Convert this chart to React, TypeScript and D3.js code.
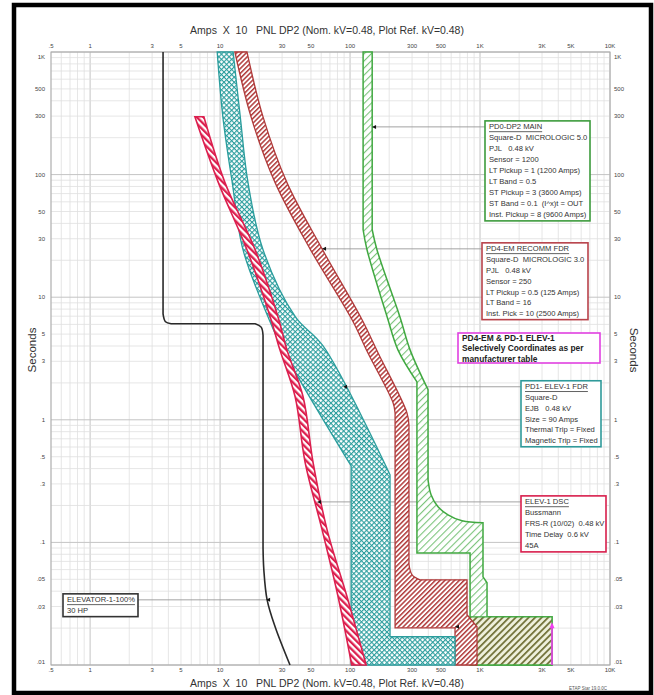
import * as d3 from 'd3';

type P = [number, number];

// axis ticks (Amps x 10 / seconds)
const xTicks = [0.5, 1, 3, 5, 10, 30, 50, 100, 300, 500, 1000, 3000, 5000, 10000];
const xTickLabels = ['.5', '1', '3', '5', '10', '30', '50', '100', '300', '500', '1K', '3K', '5K', '10K'];
const yTicks = [1000, 500, 300, 100, 50, 30, 10, 5, 3, 1, 0.5, 0.3, 0.1, 0.05, 0.03, 0.01];
const yTickLabels = ['1K', '500', '300', '100', '50', '30', '10', '5', '3', '1', '.5', '.3', '.1', '.05', '.03', '.01'];

// ELEV-1 DSC fuse (min melt / total clear)
const fuseMinMelt: P[] = [[6.4, 296], [9.7, 86], [16.1, 24.4], [24.3, 6.9], [28.9, 3.7], [37.8, 1.54], [45.1, 0.45], [60.9, 0.127], [80.9, 0.036], [103, 0.01]];
const fuseTotalClear: P[] = [[7.5, 296], [10.9, 86], [18.6, 24.4], [27.9, 6.9], [32.7, 3.7], [43.5, 1.54], [51.9, 0.45], [66.5, 0.127], [94.8, 0.036], [133, 0.01]];

// PD1- ELEV-1 FDR, EJB 90A
const pd1Min: P[] = [[9.5, 1000], [10.5, 296], [12.4, 86], [15.0, 24.4], [23.4, 6.9], [30.5, 3.7], [102, 0.42], [102, 0.01]];
const pd1Max: P[] = [[12.6, 1000], [14.3, 296], [16.4, 86], [21.4, 24.4], [38, 6.9], [62, 4.0], [203, 0.356], [203, 0.017], [642, 0.017], [642, 0.01]];

// PD4-EM RECOMM FDR, Micrologic 3.0
const pd4Min: P[] = [[13.0, 1000], [17.3, 296], [26.5, 86], [49.2, 24.8], [103.6, 6.54], [137, 3.52], [214, 1.38], [222, 1.14], [222, 0.0201], [642, 0.0201], [642, 0.01]];
const pd4Max: P[] = [[16.1, 1000], [21.4, 296], [32.7, 86], [60.9, 24.8], [123.7, 6.54], [164, 3.52], [274, 1.14], [284, 0.9], [284, 0.066], [300, 0.0544], [345, 0.0495], [794, 0.0495], [794, 0.0257], [948, 0.0205], [948, 0.01]];

// PD0-DP2 MAIN, Micrologic 5.0
const pd0Min: P[] = [[126, 1000], [126, 35.5], [135, 24.4], [193, 6.9], [234, 3.7], [327, 2.04], [327, 0.082], [838, 0.082], [838, 0.01]];
const pd0Max: P[] = [[148, 1000], [148, 35.5], [161, 24.4], [242, 6.9], [290, 3.7], [398, 1.76], [398, 0.324], [420, 0.245], [475, 0.195], [567, 0.168], [727, 0.150], [1054, 0.1445], [1054, 0.0524], [1132, 0.0468], [1132, 0.0247], [3580, 0.0247], [3580, 0.01]];
const pd0InstBand: P[] = [[838, 0.0247], [3580, 0.0247], [3580, 0.01], [838, 0.01]];

// ELEVATOR-1 motor starting
const motorCurve: P[] = [[3.64, 1000], [3.64, 7.3], [3.8, 6.3], [4.2, 6.07], [18.6, 6.07], [20.7, 5.7], [21.4, 4.9], [21.4, 0.09], [21.7, 0.06], [23, 0.034], [26.5, 0.0205], [34.5, 0.01]];

// fault current marker
const faultAmps = 3580;
const faultTop = 0.0215;

// label texts
const pd0Label = ['PD0-DP2 MAIN', 'Square-D  MICROLOGIC 5.0', 'PJL   0.48 kV', 'Sensor = 1200', 'LT Pickup = 1 (1200 Amps)', 'LT Band = 0.5', 'ST Pickup = 3 (3600 Amps)', 'ST Band = 0.1  (I^x)t = OUT', 'Inst. Pickup = 8 (9600 Amps)'];
const pd4Label = ['PD4-EM RECOMM FDR', 'Square-D  MICROLOGIC 3.0', 'PJL   0.48 kV', 'Sensor = 250', 'LT Pickup = 0.5 (125 Amps)', 'LT Band = 16', 'Inst. Pick = 10 (2500 Amps)'];
const pd1Label = ['PD1- ELEV-1 FDR', 'Square-D', 'EJB   0.48 kV', 'Size = 90 Amps', 'Thermal Trip = Fixed', 'Magnetic Trip = Fixed'];
const fuseLabel = ['ELEV-1 DSC', 'Bussmann', 'FRS-R (10/02)  0.48 kV', 'Time Delay  0.6 kV', '45A'];
const motorLabel = ['ELEVATOR-1-100%', '30 HP'];
const noteLabel = ['PD4-EM & PD-1 ELEV-1', 'Selectively Coordinates as per', 'manufacturer table'];

// leader tips (amps x10, seconds)
const pd0Tip: P = [147.6, 245];
const pd4Tip: P = [60.9, 24.8];
const pd1Tip: P = [88.3, 1.86];
const fuseTip: P = [55.7, 0.214];
const motorTip: P = [22.6, 0.034];
const pd4InstTip: P = [642, 0.0205];

const W = 654;
const H = 695;
const plot = { left: 51, right: 610, top: 52, bottom: 665 };
const FONT = 'Liberation Sans, Arial, sans-serif';

const x = d3.scaleLog().domain([0.5, 10000]).range([plot.left, plot.right]);
const y = d3.scaleLog().domain([0.01, 1000]).range([plot.bottom, plot.top]);

const smoothGen = d3.line<P>().x(d => x(d[0])).y(d => y(d[1])).curve(d3.curveCatmullRom.alpha(0.5));
const linearGen = d3.line<P>().x(d => x(d[0])).y(d => y(d[1]));

// axis-aligned pieces straight, the rest smooth
function tracePath(pts: P[], move: boolean): string {
  const aligned = (a: P, b: P) => a[0] === b[0] || a[1] === b[1];
  let d = '';
  let i = 0;
  while (i < pts.length - 1) {
    const str = aligned(pts[i], pts[i + 1]);
    let j = i + 1;
    while (j < pts.length - 1 && aligned(pts[j], pts[j + 1]) === str) j++;
    let s = (str ? linearGen : smoothGen)(pts.slice(i, j + 1)) || '';
    if (d || !move) s = s.replace(/^M/, 'L');
    d += s;
    i = j;
  }
  return d;
}

const band = (left: P[], right: P[]) => tracePath(left, true) + tracePath([...right].reverse(), false) + 'Z';

const isMajor = (v: number) => Math.abs(Math.log10(v) - Math.round(Math.log10(v))) < 1e-6;

function Box({ left, tip, lines, color, width, lh = 10.8 }: any) {
  const ty = y(tip[1]);
  const boxTop = ty - 6;
  const h = (lines.length - 1) * lh + 12;
  return (
    <g>
      <line x1={x(tip[0])} x2={left} y1={ty} y2={ty} stroke="#999" strokeWidth={0.9} />
      <rect x={left} y={boxTop} width={width} height={h} fill="#fff" stroke={color} strokeWidth={1.6} />
      {lines.map((t: string, i: number) => (
        <text key={i} x={left + 4} y={boxTop + 6 + i * lh} dominantBaseline="central" fontSize={7.6}
          fill="#333" style={{ whiteSpace: 'pre' }} textDecoration={i === 0 ? 'underline' : undefined}>{t}</text>
      ))}
    </g>
  );
}

export default function App() {
  const xGrid = x.ticks();
  const yGrid = y.ticks();
  return (
    <svg width={W} height={H} style={{ position: 'absolute', left: 0, top: 0, display: 'block', background: '#fff' }} fontFamily={FONT}>
      <defs>
        <pattern id="hFuse" width={4.6} height={4.6} patternUnits="userSpaceOnUse" patternTransform="rotate(-45)">
          <rect width={4.6} height={4.6} fill="#fff" />
          <rect width={2.3} height={4.6} fill="#dc1f4e" />
        </pattern>
        <pattern id="hPd4" width={3.4} height={3.4} patternUnits="userSpaceOnUse" patternTransform="rotate(45)">
          <rect width={3.4} height={3.4} fill="#fff" />
          <rect width={1.5} height={3.4} fill="#b03a3a" />
        </pattern>
        <pattern id="hPd1" width={3.6} height={3.6} patternUnits="userSpaceOnUse" patternTransform="rotate(45)">
          <rect width={3.6} height={3.6} fill="#fff" />
          <rect width={1.1} height={3.6} fill="#2b9d9d" />
          <rect width={3.6} height={1.1} fill="#2b9d9d" />
        </pattern>
        <pattern id="hPd0" width={5} height={5} patternUnits="userSpaceOnUse" patternTransform="rotate(45)">
          <rect width={5} height={5} fill="#fff" />
          <rect width={1.1} height={5} fill="#7cc47c" />
        </pattern>
        <pattern id="hInst" width={4.6} height={4.6} patternUnits="userSpaceOnUse" patternTransform="rotate(45)">
          <rect width={4.6} height={4.6} fill="#eef0dc" />
          <rect width={1.7} height={4.6} fill="#6e6e34" />
        </pattern>
      </defs>

      {/* grid */}
      {xGrid.map((v, i) => (
        <line key={'gx' + i} x1={x(v)} x2={x(v)} y1={plot.top} y2={plot.bottom}
          stroke={isMajor(v) ? '#c4c4c4' : '#e0e0e0'} strokeWidth={isMajor(v) ? 1 : 0.8} />
      ))}
      {yGrid.map((v, i) => (
        <line key={'gy' + i} x1={plot.left} x2={plot.right} y1={y(v)} y2={y(v)}
          stroke={isMajor(v) ? '#c4c4c4' : '#e0e0e0'} strokeWidth={isMajor(v) ? 1 : 0.8} />
      ))}
      <rect x={plot.left} y={plot.top} width={plot.right - plot.left} height={plot.bottom - plot.top}
        fill="none" stroke="#aaa" strokeWidth={1} />

      {/* leaders and label boxes */}
      <Box left={485} width={105} lh={11} tip={pd0Tip} lines={pd0Label} color="#3d9b3d" />
      <Box left={482} width={106} tip={pd4Tip} lines={pd4Label} color="#b8424a" />
      <Box left={521} width={80} tip={pd1Tip} lines={pd1Label} color="#2f9a9a" />
      <Box left={521} width={85} lh={11} tip={fuseTip} lines={fuseLabel} color="#d81e4c" />
      <Box left={63} width={75} tip={motorTip} lines={motorLabel} color="#333" />

      {/* bands */}
      <path d={band(pd0Min, pd0Max)} fill="url(#hPd0)" stroke="#40a840" strokeWidth={1.5} />
      <path d={linearGen(pd0InstBand) + 'Z'} fill="url(#hInst)" stroke="#40a840" strokeWidth={1.3} />
      <path d={band(pd4Min, pd4Max)} fill="url(#hPd4)" stroke="#b03a3a" strokeWidth={1.3} />
      <path d={band(pd1Min, pd1Max)} fill="url(#hPd1)" stroke="#2b9d9d" strokeWidth={1.3} />
      <path d={band(fuseMinMelt, fuseTotalClear)} fill="url(#hFuse)" stroke="#dc1f4e" strokeWidth={1.6} />
      <path d={tracePath(motorCurve, true)} fill="none" stroke="#2a2a2a" strokeWidth={1.6} />

      {/* tip markers on top of curves */}
      {[pd0Tip, pd4Tip, pd1Tip, fuseTip, motorTip, pd4InstTip].map((t, i) => (
        <path key={'m' + i} d={`M${x(t[0])},${y(t[1])}l4,-2l0,4Z`} fill="#111" />
      ))}

      {/* fault current marker */}
      <line x1={x(faultAmps)} x2={x(faultAmps)} y1={y(0.01)} y2={y(faultTop)} stroke="#f03cf0" strokeWidth={1.6} />
      <path d={`M${x(faultAmps)},${y(faultTop) - 2}l-2.5,6l5,0Z`} fill="#f03cf0" />

      {/* coordination note */}
      <rect x={458} y={333} width={142} height={30} fill="#fff" stroke="#e040e0" strokeWidth={1.6} />
      {noteLabel.map((t, i) => (
        <text key={'n' + i} x={462} y={338 + i * 10.3} dominantBaseline="central" fontSize={8.4}
          fontWeight="bold" fill="#222">{t}</text>
      ))}

      {/* tick labels */}
      {xTicks.map((v, i) => (
        <g key={'xt' + i} fontSize={6} fill="#444" textAnchor="middle">
          <text x={x(v)} y={48}>{xTickLabels[i]}</text>
          <text x={x(v)} y={672}>{xTickLabels[i]}</text>
        </g>
      ))}
      {yTicks.map((v, i) => {
        const yy = Math.min(Math.max(y(v), plot.top + 5), plot.bottom - 3);
        return (
          <g key={'yt' + i} fontSize={6} fill="#444" dominantBaseline="central">
            <text x={45} y={yy} textAnchor="end">{yTickLabels[i]}</text>
            <text x={614} y={yy}>{yTickLabels[i]}</text>
          </g>
        );
      })}

      {/* titles */}
      <text x={327} y={30} textAnchor="middle" fontSize={10.5} fill="#333" style={{ whiteSpace: 'pre' }} dominantBaseline="central">
        {'Amps  X  10   PNL DP2 (Nom. kV=0.48, Plot Ref. kV=0.48)'}
      </text>
      <text x={327} y={683} textAnchor="middle" fontSize={10.5} fill="#333" style={{ whiteSpace: 'pre' }} dominantBaseline="central">
        {'Amps  X  10   PNL DP2 (Nom. kV=0.48, Plot Ref. kV=0.48)'}
      </text>
      <text transform="translate(32,350) rotate(-90)" textAnchor="middle" fontSize={11.5} fill="#333" dominantBaseline="central">Seconds</text>
      <text transform="translate(634,350) rotate(90)" textAnchor="middle" fontSize={11.5} fill="#333" dominantBaseline="central">Seconds</text>
      <text x={588} y={690} textAnchor="middle" fontSize={4.5} fill="#555">ETAP Star 19.0.0C</text>

      {/* outer frame */}
      <rect x={14} y={5} width={637} height={688} fill="none" stroke="#000" strokeWidth={4.5} />
    </svg>
  );
}
